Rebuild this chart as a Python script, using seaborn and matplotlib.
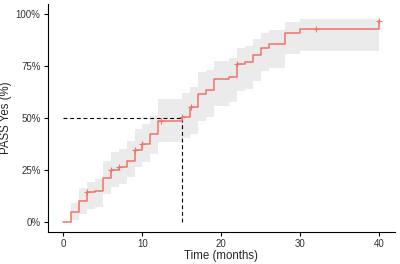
import numpy as np
import matplotlib
matplotlib.use("Agg")
import matplotlib.pyplot as plt
import seaborn as sns
import pandas as pd
from matplotlib.ticker import FuncFormatter

# cumulative event curve (fun = "event")
times = [0, 1, 2, 3, 4, 5, 6, 7, 8, 9, 10, 11, 12, 15, 16, 17, 18, 19, 21, 22, 23, 24, 25, 26, 28, 30, 40]
event_pct = [0, 4.5, 10.1, 14.1, 15, 21, 24.7, 26.3, 29.5, 34.8, 37.5, 42.3, 48.4, 50.3, 55.3,
             61.8, 63.6, 68.6, 69.9, 76, 77, 80.4, 84, 85.9, 91.2, 93, 97]
lower_pct = [0, 1, 3.8, 6.2, 7, 13.5, 16.6, 18.3, 21.5, 26.3, 28.7, 32.7, 38.3, 40.4, 42.3,
             48.7, 50.3, 56, 57.6, 63, 64, 68, 72.7, 74.3, 80.8, 82.4, 82.4]
upper_pct = [0, 9, 16.2, 19, 20.7, 29.5, 33.5, 35, 39, 44.7, 47, 51, 59, 62.3, 65,
             72, 73, 77.5, 79, 84, 84.8, 88, 91, 92.3, 96.5, 97.6, 97.6]

# censored observations
cens_t = [3, 6, 7, 9, 10, 12.3, 15, 16.2, 22, 32, 40]
cens_pct = [14.1, 24.7, 26.3, 34.8, 37.5, 48.4, 50.3, 55.3, 76, 93, 97]

median_t = 15
xticks = [0, 10, 20, 30, 40]
yticks = [0, 25, 50, 75, 100]

df = pd.DataFrame({"time": times, "event": event_pct, "lower": lower_pct, "upper": upper_pct})
cens = pd.DataFrame({"time": cens_t, "event": cens_pct})

sns.set_style("ticks")
plt.rcParams["font.family"] = ["Liberation Sans", "DejaVu Sans"]

line_col = "#EE7468"

fig = plt.figure(figsize=(4.0, 2.64), dpi=100)
ax = fig.add_axes([0.119, 0.121, 0.869, 0.864])

ax.fill_between(df["time"], df["lower"], df["upper"], step="post", color="#EBEBEB", lw=0)

# median lines
ax.plot([0, median_t], [50, 50], color="black", lw=0.8, ls=(0, (3.5, 2.5)))
ax.plot([median_t, median_t], [0, 50], color="black", lw=0.8, ls=(0, (3.5, 2.5)))

sns.lineplot(data=df, x="time", y="event", drawstyle="steps-post", color=line_col,
             lw=1.1, ax=ax, estimator=None, sort=False)
sns.scatterplot(data=cens, x="time", y="event", marker="+", color=line_col, s=18,
                linewidth=0.8, ax=ax, zorder=5)

ax.set_xlim(-2, 42)
ax.set_ylim(-5, 105)
ax.set_xticks(xticks)
ax.set_yticks(yticks)
ax.yaxis.set_major_formatter(FuncFormatter(lambda v, p: f"{int(v)}%"))
ax.tick_params(labelsize=7, colors="black", labelcolor="#333333", length=3, width=0.8, pad=2)
for s in ["left", "bottom"]:
    ax.spines[s].set_color("black")
    ax.spines[s].set_linewidth(0.8)
sns.despine(ax=ax)

ax.set_xlabel("Time (months)", fontsize=8.3, labelpad=1)
ax.set_ylabel("PASS Yes (%)", fontsize=8.3, labelpad=3)

fig.savefig("out.png", dpi=100)
